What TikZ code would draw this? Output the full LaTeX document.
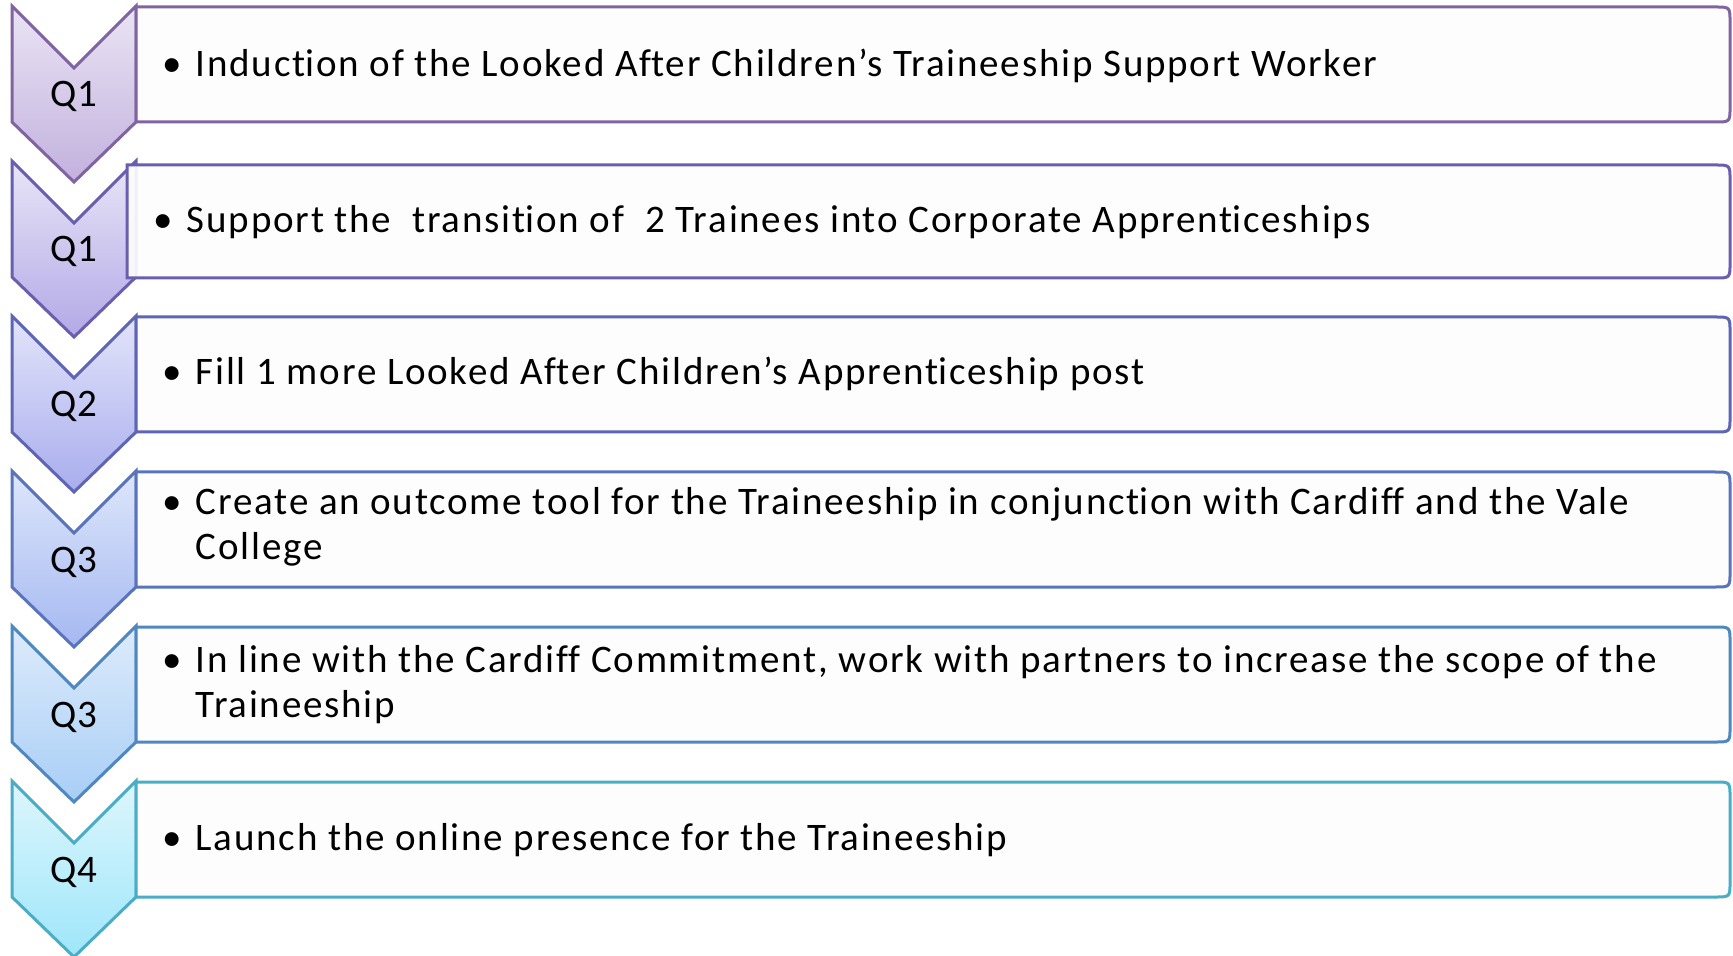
\documentclass[tikz,border=0pt]{standalone}
\usepackage{fontspec}
\setmainfont{Carlito}
\newfontfamily\taskfont[LetterSpace=4.6,Ligatures=NoCommon]{Carlito}
\newcommand{\nolig}{\kern0pt}
\usepackage{tikz}

\definecolor{lineA}{HTML}{8064A2}\definecolor{topA}{HTML}{EAE4F4}\definecolor{botA}{HTML}{C2B1DE}
\definecolor{lineB}{HTML}{6A5FAE}\definecolor{topB}{HTML}{E8E5F7}\definecolor{botB}{HTML}{B3A9E6}
\definecolor{lineC}{HTML}{5E65B5}\definecolor{topC}{HTML}{E2E4FA}\definecolor{botC}{HTML}{A9ADED}
\definecolor{lineD}{HTML}{5A74BB}\definecolor{topD}{HTML}{DDE6FB}\definecolor{botD}{HTML}{A5B8F1}
\definecolor{lineE}{HTML}{4F87C0}\definecolor{topE}{HTML}{DDEBFB}\definecolor{botE}{HTML}{A8CEF6}
\definecolor{lineF}{HTML}{4BACC6}\definecolor{topF}{HTML}{DDF6FD}\definecolor{botF}{HTML}{9EE6FA}
\definecolor{paper}{HTML}{FDFDFD}

\newcommand{\chevronpath}{(12,6) -- (74,68) -- (136,6) -- (136,122) -- (74,182) -- (12,122) -- cycle}
\newcommand{\taskpath}[1]{(#1,7) -- (1715,7) .. controls (1730,7) .. (1730,22) -- (1730,107)
  .. controls (1730,122) .. (1715,122) -- (#1,122) -- cycle}

\begin{document}
\begin{tikzpicture}[x=0.5pt,y=-0.5pt]
  \tikzstyle{chevron}=[line width=1.5pt,line join=miter]
  \tikzstyle{taskbox}=[line width=1.5pt,fill=paper,fill opacity=0.92,draw opacity=1]
  \tikzstyle{quarter}=[anchor=base,inner sep=0pt,font=\fontsize{19.5}{22.5}\selectfont]
  \tikzstyle{task}=[anchor=base west,inner sep=0pt,font=\taskfont\fontsize{19.5}{22.5}\selectfont]
  \useasboundingbox (0,0) rectangle (1733,956);
  % Q1
  \begin{scope}
    \path[chevron,draw=lineA,top color=topA,bottom color=botA] \chevronpath;
    \draw[taskbox,draw=lineA] \taskpath{136};
    \node[quarter] (q1) at (74,107) {Q1};
    \node[task] (t1) at (162,77) {\begin{tabular}[t]{@{}l@{\hspace{7pt}}l@{}}
      \textbullet & Induct\nolig ion of the Looked Af\nolig ter Children’s Traineeship Support Worker\end{tabular}};
  \end{scope}
  % Q1
  \begin{scope}[yshift=-77.5pt]
    \path[chevron,draw=lineB,top color=topB,bottom color=botB] \chevronpath;
    \draw[taskbox,draw=lineB] (127,10) -- (1715,10) .. controls (1730,10) .. (1730,25) -- (1730,108)
      .. controls (1730,123) .. (1715,123) -- (127,123) -- cycle;
    \node[quarter] (q2) at (74,107) {Q1};
    \node[task] (t2) at (153,78) {\begin{tabular}[t]{@{}l@{\hspace{7pt}}l@{}}
      \textbullet & Support the\ \ transit\nolig ion of\ \ 2 Trainees into Corporate Apprent\nolig iceships\end{tabular}};
  \end{scope}
  % Q2
  \begin{scope}[yshift=-155pt]
    \path[chevron,draw=lineC,top color=topC,bottom color=botC] \chevronpath;
    \draw[taskbox,draw=lineC] \taskpath{136};
    \node[quarter] (q3) at (74,107) {Q2};
    \node[task] (t3) at (162,75) {\begin{tabular}[t]{@{}l@{\hspace{7pt}}l@{}}
      \textbullet & Fill 1 more Looked Af\nolig ter Children’s Apprent\nolig iceship post\end{tabular}};
  \end{scope}
  % Q3
  \begin{scope}[yshift=-232.5pt]
    \path[chevron,draw=lineD,top color=topD,bottom color=botD] \chevronpath;
    \draw[taskbox,draw=lineD] \taskpath{136};
    \node[quarter] (q4) at (74,107) {Q3};
    \node[task] (t4) at (162,50) {\begin{tabular}[t]{@{}l@{\hspace{7pt}}l@{}}
      \textbullet & Create an outcome tool for the Traineeship in conjunct\nolig ion with Cardif\nolig f and the Vale\\
      & College\end{tabular}};
  \end{scope}
  % Q3
  \begin{scope}[yshift=-310pt]
    \path[chevron,draw=lineE,top color=topE,bottom color=botE] \chevronpath;
    \draw[taskbox,draw=lineE] \taskpath{136};
    \node[quarter] (q5) at (74,107) {Q3};
    \node[task] (t5) at (162,52) {\begin{tabular}[t]{@{}l@{\hspace{7pt}}l@{}}
      \textbullet & In line with the Cardif\nolig f Commitment, work with partners to increase the scope of the\\
      & Traineeship\end{tabular}};
  \end{scope}
  % Q4
  \begin{scope}[yshift=-387.5pt]
    \path[chevron,draw=lineF,top color=topF,bottom color=botF] \chevronpath;
    \draw[taskbox,draw=lineF] \taskpath{136};
    \node[quarter] (q6) at (74,107) {Q4};
    \node[task] (t6) at (162,75) {\begin{tabular}[t]{@{}l@{\hspace{7pt}}l@{}}
      \textbullet & Launch the online presence for the Traineeship\end{tabular}};
  \end{scope}
\end{tikzpicture}
\end{document}
